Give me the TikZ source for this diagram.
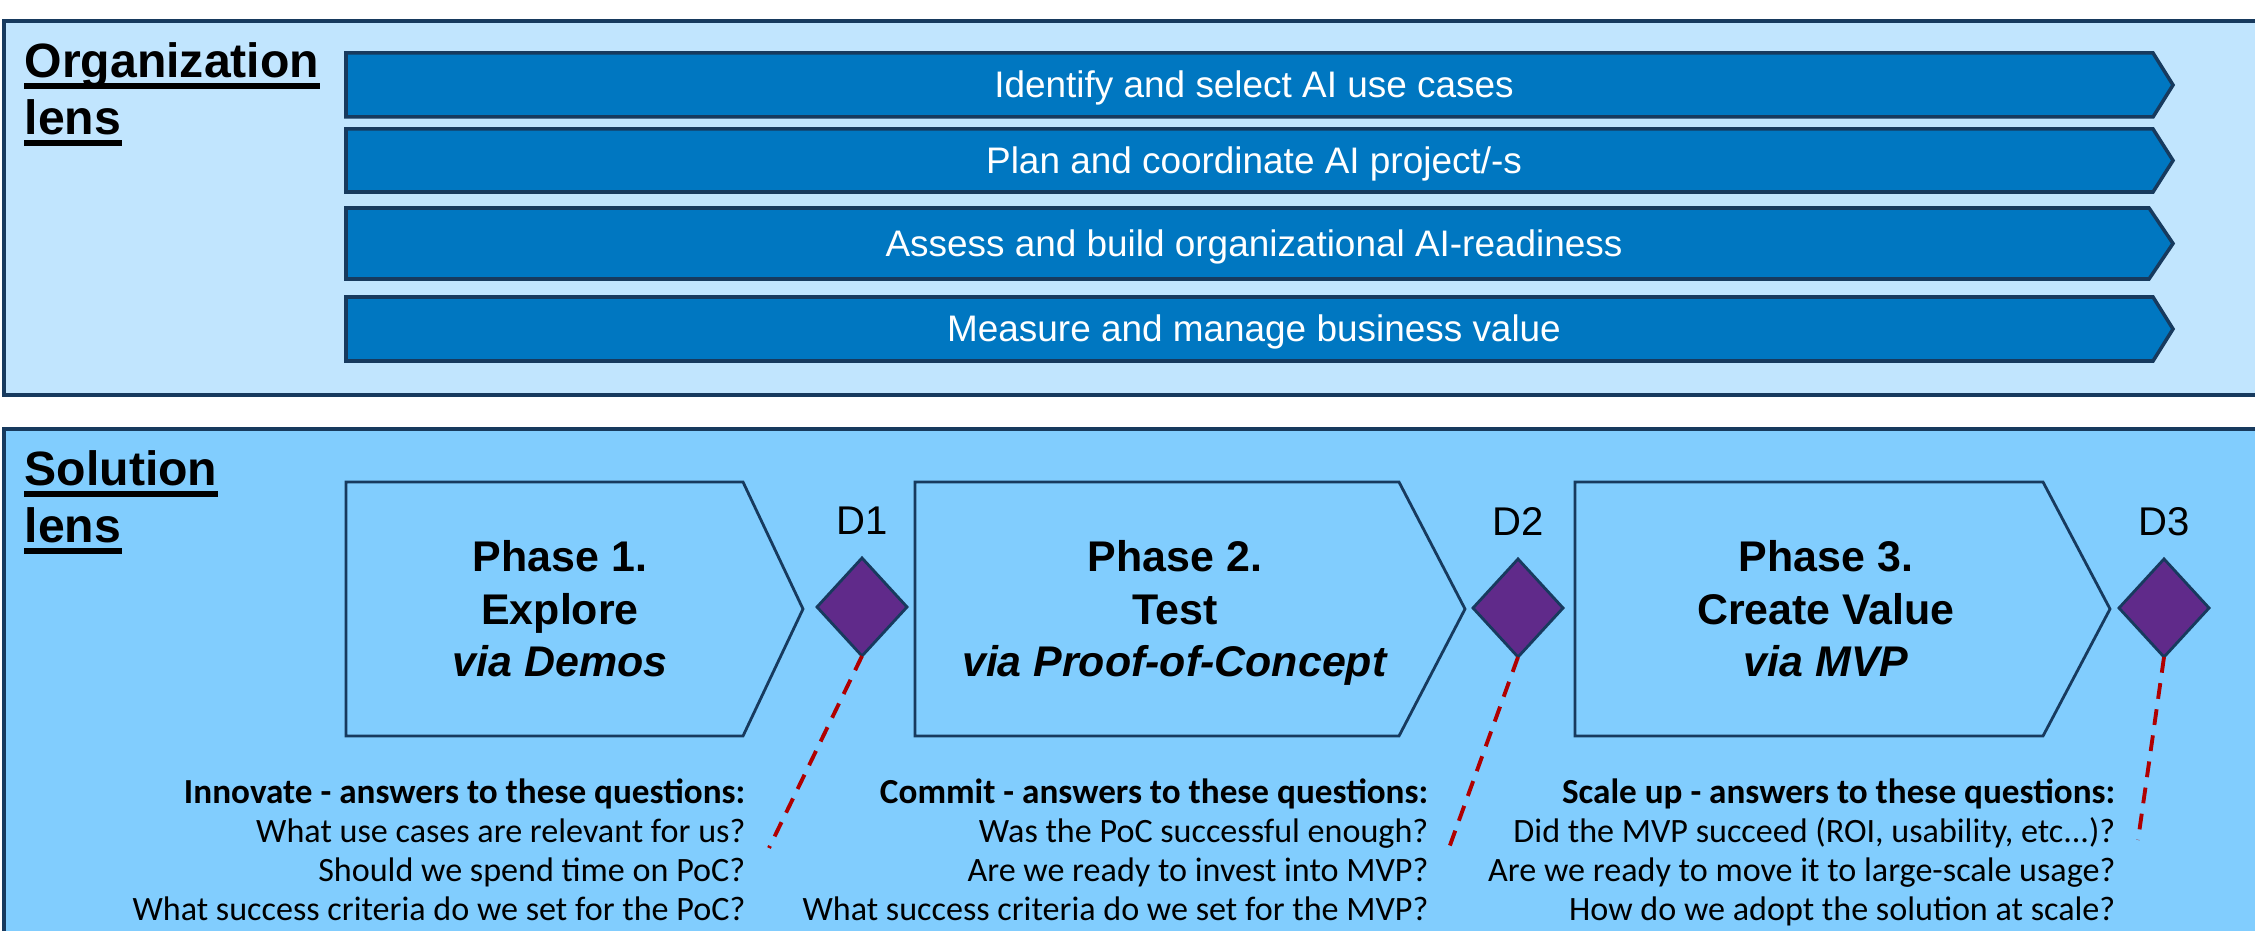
\documentclass[tikz,border=0pt]{standalone}
\usepackage{fontspec}
\setmainfont{Liberation Sans}
\newfontfamily\qfont{Carlito}
\usetikzlibrary{shapes.geometric,calc}

\definecolor{orgfill}{HTML}{C1E5FE}
\definecolor{solfill}{HTML}{81CDFE}
\definecolor{framenavy}{HTML}{173A5E}
\definecolor{ribbonblue}{HTML}{0077C1}
\definecolor{gatepurple}{HTML}{602A8A}
\definecolor{dashred}{HTML}{B00000}

\newcommand{\qhead}[1]{{\fontsize{10}{11}\selectfont\bfseries #1}}

\tikzset{
    panel/.style={draw=framenavy, line width=0.9pt},
    lenstext/.style={anchor=base west, inner sep=0pt, font=\fontsize{13.7}{16}\selectfont\bfseries},
    lensrule/.style={line width=1.6pt},
    ribbon/.style={draw=framenavy, line width=1pt, fill=ribbonblue},
    ribbontext/.style={text=white, inner sep=0pt, text height=0.72em, text depth=0pt, font=\fontsize{10.5}{12}\selectfont},
    phasebox/.style={draw=framenavy, line width=0.8pt},
    phasetext/.style={align=center, inner sep=0pt, font=\fontsize{12.2}{15}\selectfont\bfseries},
    gate/.style={diamond, draw=framenavy, line width=0.8pt, fill=gatepurple, inner sep=0pt, outer sep=0pt, minimum width=0.9cm, minimum height=0.98cm},
    gatelabel/.style={anchor=base, inner sep=0pt, font=\fontsize{11.4}{13}\selectfont},
    gateline/.style={draw=dashred, line width=1.1pt, dash pattern=on 4.5pt off 3pt},
    qblock/.style={anchor=north east, align=right, inner sep=0pt, font=\qfont\fontsize{9.7}{11.1}\selectfont}
}

\begin{document}
\begin{tikzpicture}[x=0.01cm, y=-0.01cm]
    \useasboundingbox (0,0) rectangle (2255,931);

    % Draw Lens Panels
    \draw[panel, fill=orgfill] (4,21) rectangle (2270,395);
    \draw[panel, fill=solfill] (4,429) rectangle (2270,945);

    % Lens Headers
    \node[lenstext] (org1) at (24,78) {Organization};
    \node[lenstext] (org2) at (24,135) {lens};
    \node[lenstext] (sol1) at (24,486) {Solution};
    \node[lenstext] (sol2) at (24,543) {lens};
    \foreach \n in {org1,org2,sol1,sol2}
        \draw[lensrule] ($(\n.base west)+(0,8)$) -- ($(\n.base east)+(0,8)$);

    % Organization Ribbons
    \foreach \t/\b/\f/\nm/\txt in {53/117/2153/rib1/{Identify and select AI use cases},
                                   129/192/2153/rib2/{Plan and coordinate AI project/-s},
                                   208/279/2149/rib3/{Assess and build organizational AI-readiness},
                                   297/361/2153/rib4/{Measure and manage business value}} {
        \draw[ribbon] (346,\t) -- (\f,\t) -- (2173,{(\t+\b)/2}) -- (\f,\b) -- (346,\b) -- cycle;
        \node[ribbontext] (\nm) at (1254,{(\t+\b)/2}) {\txt};
    }

    % Phase Boxes
    \foreach \l/\f/\p in {346/743/803, 915/1399/1465, 1575/2043/2110}
        \draw[phasebox] (\l,482) -- (\f,482) -- (\p,609) -- (\f,736) -- (\l,736) -- cycle;

    % -- phase texts
    \node[phasetext] (ph1) at (560,613) {Phase 1.\\Explore\\\textit{via Demos\vphantom{p}}};
    \node[phasetext] (ph2) at (1175,613) {Phase 2.\\Test\\\textit{via Proof-of-Concept}};
    \node[phasetext] (ph3) at (1826,613) {Phase 3.\\Create Value\\\textit{via MVP\vphantom{p}}};

    % Decision Gates
    \node[gate] (d1) at (862,607) {};
    \node[gate] (d2) at (1518,608) {};
    \node[gate] (d3) at (2164,608) {};
    \node[gatelabel] (d1t) at ($(d1.north)+(0,-23)$) {D1};
    \node[gatelabel] (d2t) at ($(d2.north)+(0,-23)$) {D2};
    \node[gatelabel] (d3t) at ($(d3.north)+(0,-23)$) {D3};

    % Gate Questions
    \node[qblock] (q1) at (746,778) {\qhead{Innovate - answers to these questions:}\\What use cases are relevant for us?\\Should we spend time on PoC?\\What success criteria do we set for the PoC?};
    \node[qblock] (q2) at (1429,778) {\qhead{Commit - answers to these questions:}\\Was the PoC successful enough?\\Are we ready to invest into MVP?\\What success criteria do we set for the MVP?};
    \node[qblock] (q3) at (2116,778) {\qhead{Scale up - answers to these questions:}\\Did the MVP succeed (ROI, usability, etc...)?\\Are we ready to move it to large-scale usage?\\How do we adopt the solution at scale?};

    % -- gate to question links
    \coordinate (q1end) at (769,848);
    \coordinate (q2end) at (1449,848);
    \coordinate (q3end) at (2138,840);
    \draw[gateline] (d1.south) -- (q1end);
    \draw[gateline] (d2.south) -- (q2end);
    \draw[gateline] (d3.south) -- (q3end);
\end{tikzpicture}
\end{document}
